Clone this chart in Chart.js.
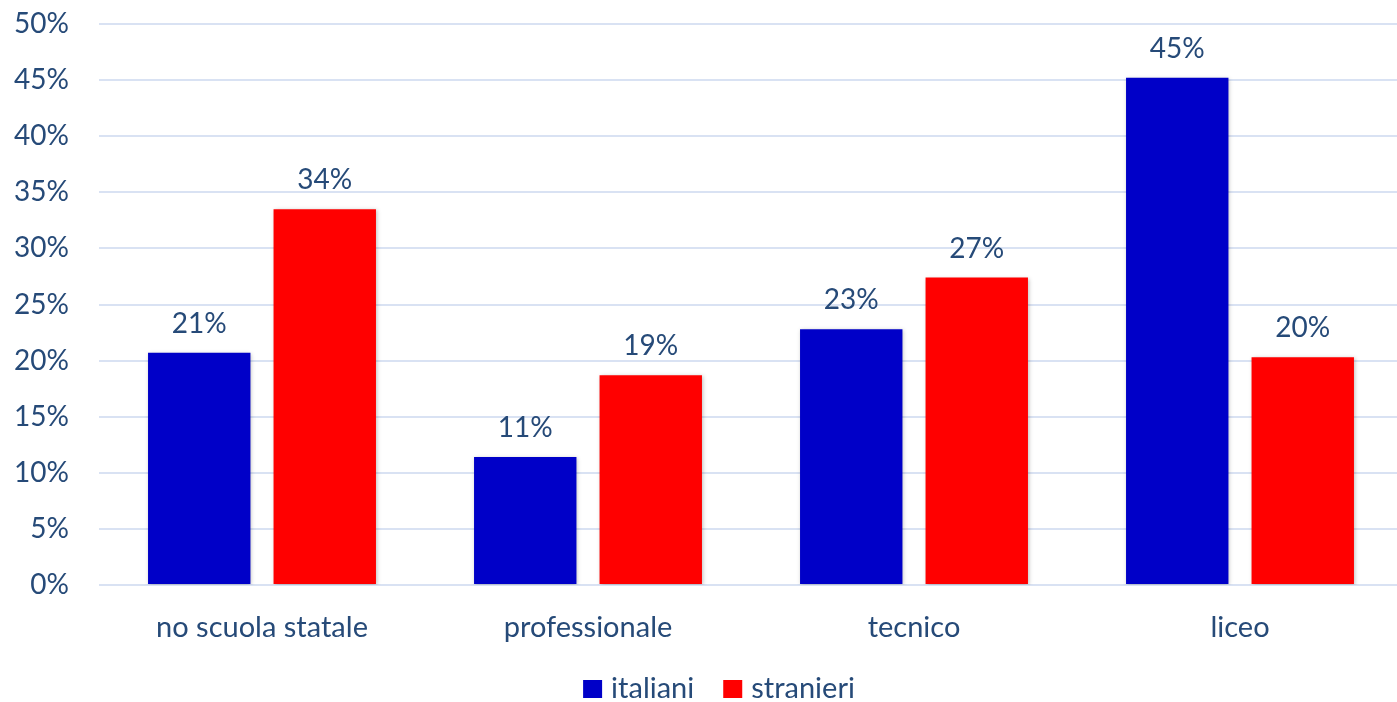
<!DOCTYPE html>
<html>
<head>
<meta charset="utf-8">
<script src="https://cdn.jsdelivr.net/npm/chart.js@4"></script>
<style>
  html, body { margin: 0; padding: 0; background: #fff; overflow: hidden; }
  #wrap { width: 1397px; height: 702px; overflow: hidden; }
</style>
</head>
<body>
<div id="wrap"><canvas id="schoolChart" width="1403" height="702"></canvas></div>
<script>
const categories = ["no scuola statale", "professionale", "tecnico", "liceo"];
const italiani = [20.7, 11.4, 22.8, 45.2];
const stranieri = [33.5, 18.7, 27.4, 20.3];
const yTicks = [0, 5, 10, 15, 20, 25, 30, 35, 40, 45, 50];

const textColor = "#264a78";
const fontFamily = "Lato, 'Open Sans', sans-serif";

// soft shadow behind the bars, like the original
const barShadow = {
  id: "barShadow",
  beforeDatasetsDraw(chart) {
    const ctx = chart.ctx;
    ctx.save();
    ctx.shadowColor = "rgba(0,0,0,0.25)";
    ctx.shadowBlur = 4;
    ctx.shadowOffsetX = 1;
    ctx.shadowOffsetY = 1;
  },
  afterDatasetsDraw(chart) {
    chart.ctx.restore();
  }
};

// percentage labels above each bar
const valueLabels = {
  id: "valueLabels",
  afterDatasetsDraw(chart) {
    const ctx = chart.ctx;
    ctx.save();
    ctx.fillStyle = textColor;
    ctx.font = "28px " + fontFamily;
    ctx.textAlign = "center";
    ctx.textBaseline = "middle";
    chart.data.datasets.forEach((ds, i) => {
      chart.getDatasetMeta(i).data.forEach((bar, j) => {
        ctx.fillText(Math.round(ds.data[j]) + "%", bar.x, bar.y - 29);
      });
    });
    ctx.restore();
  }
};

// compact legend at the bottom (box close to its text, like Excel)
const bottomLegend = {
  id: "bottomLegend",
  afterDraw(chart) {
    const ctx = chart.ctx;
    const box = 19, gap = 9, itemGap = 29;
    ctx.save();
    ctx.font = "29px " + fontFamily;
    ctx.textBaseline = "middle";
    const items = chart.data.datasets.map(ds => ({
      label: ds.label, color: ds.backgroundColor, w: ctx.measureText(ds.label).width
    }));
    const total = items.reduce((s, it) => s + box + gap + it.w, 0) + itemGap * (items.length - 1);
    let x = 719 - total / 2;
    const y = 689;
    items.forEach(it => {
      ctx.fillStyle = it.color;
      ctx.fillRect(x, y - 9, box, 18);
      ctx.fillStyle = textColor;
      ctx.fillText(it.label, x + box + gap, y);
      x += box + gap + it.w + itemGap;
    });
    ctx.restore();
  }
};

document.addEventListener("DOMContentLoaded", () => {
  const ctx = document.getElementById("schoolChart").getContext("2d");
  new Chart(ctx, {
    type: "bar",
    data: {
      labels: categories,
      datasets: [
        {
          label: "italiani",
          data: italiani,
          backgroundColor: "#0000c8",
          barPercentage: 0.816,
          categoryPercentage: 0.77,
        },
        {
          label: "stranieri",
          data: stranieri,
          backgroundColor: "#ff0000",
          barPercentage: 0.816,
          categoryPercentage: 0.77,
        },
      ],
    },
    options: {
      responsive: false,
      animation: false,
      layout: { padding: { top: 24, right: 0, left: 0, bottom: 38 } },
      plugins: {
        legend: { display: false },
        tooltip: { enabled: false },
      },
      scales: {
        x: {
          grid: { display: false },
          border: { display: false },
          afterFit(scale) {
            scale.height = 79;
          },
          ticks: {
            color: textColor,
            font: { size: 29, family: fontFamily },
            padding: 17,
          },
        },
        y: {
          min: 0,
          max: 50,
          afterBuildTicks(scale) {
            scale.ticks = yTicks.map(v => ({ value: v }));
          },
          afterFit(scale) {
            scale.width = 99;
            scale.paddingTop = 0;
            scale.paddingBottom = 0;
          },
          grid: { color: "#d9e2f3", lineWidth: 2, drawTicks: false },
          border: { display: false },
          ticks: {
            color: textColor,
            font: { size: 28, family: fontFamily },
            padding: 30,
            callback: v => v + "%",
          },
        },
      },
    },
    plugins: [barShadow, valueLabels, bottomLegend],
  });
});
</script>
</body>
</html>
